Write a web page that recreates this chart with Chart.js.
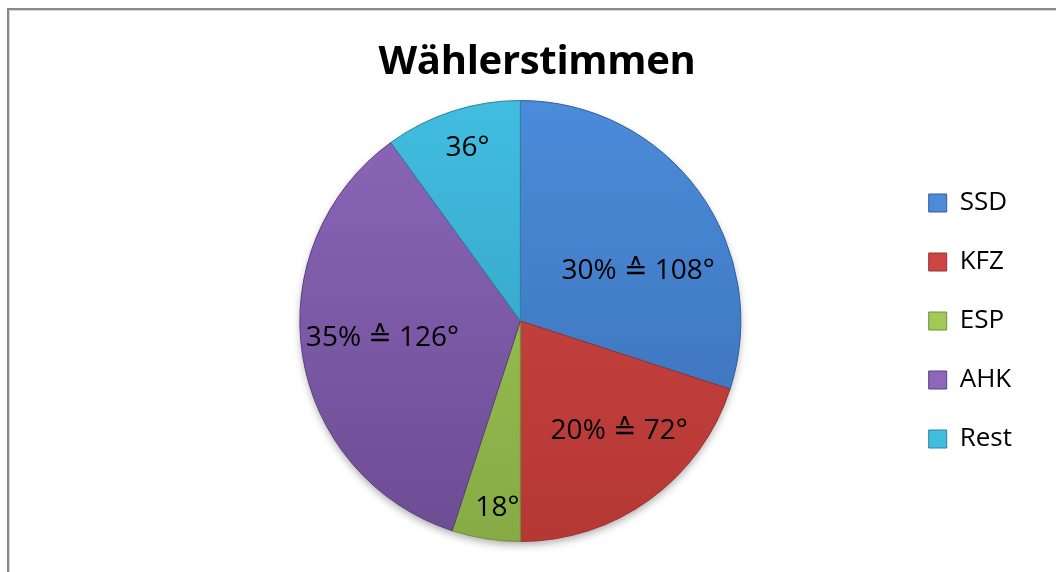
<!DOCTYPE html>
<html>
<head>
<meta charset="utf-8">
<script src="https://cdn.jsdelivr.net/npm/chart.js@4/dist/chart.umd.min.js"></script>
<style>
  html, body { margin: 0; padding: 0; background: #fff; overflow: hidden; }
  #wrap { position: relative; width: 1056px; height: 572px; }
  #frame {
    position: absolute; left: 7px; top: 8px; width: 1200px; height: 800px;
    border-left: 2px solid #8a8a8a; border-top: 2px solid #8a8a8a;
    box-shadow: inset 1px 1px 0 #d8d8d8;
  }
  #title {
    position: absolute; left: 0; top: 31px; width: 1074px; margin: 0;
    text-align: center; font: bold 40px "Open Sans", sans-serif; line-height: 56px;
    color: #000; letter-spacing: -0.3px;
  }
  canvas { position: absolute; left: 0; top: 0; }
</style>
</head>
<body>
<div id="wrap">
  <div id="frame"></div>
  <canvas id="pie" width="1056" height="572"></canvas>
  <h1 id="title">Wählerstimmen</h1>
</div>
<script>
const parties = ['SSD', 'KFZ', 'ESP', 'AHK', 'Rest'];
const degrees = [108, 72, 18, 126, 36];
const sliceLabels = ['30% ≙ 108°', '20% ≙ 72°', '18°', '35% ≙ 126°', '36°'];

// light (top) / dark (bottom) shades, Office 2007 look
const lightShades = ['#4b8bd9', '#cd4643', '#a0ca55', '#8c67ba', '#41bde0'];
const darkShades = ['#3a6fb5', '#b53835', '#86ab45', '#6c4c93', '#3299bb'];
const edgeShades = ['#2f5f9c', '#983230', '#6f9138', '#5a3f7c', '#2a829f'];

// where each label sits: fraction of radius, angle nudge in degrees
const labelRadius = [0.58, 0.67, 0.855, 0.63, 0.82];
const labelNudge = [13, -6, -2, 2, 1];

function sliceFill(ctx) {
  const i = ctx.dataIndex;
  const area = ctx.chart.chartArea;
  if (!area) return lightShades[i];
  const g = ctx.chart.ctx.createLinearGradient(0, area.top, 0, area.bottom);
  g.addColorStop(0, lightShades[i]);
  g.addColorStop(1, darkShades[i]);
  return g;
}

const pieShadow = {
  id: 'pieShadow',
  beforeDatasetsDraw(chart) {
    const arc = chart.getDatasetMeta(0).data[0];
    if (!arc) return;
    const { x, y, outerRadius } = arc.getProps(['x', 'y', 'outerRadius'], true);
    const c = chart.ctx;
    c.save();
    c.shadowColor = 'rgba(0,0,0,0.35)';
    c.shadowBlur = 9;
    c.shadowOffsetY = 4;
    c.fillStyle = '#777';
    c.beginPath();
    c.arc(x, y, outerRadius - 1, 0, Math.PI * 2);
    c.fill();
    c.restore();
  }
};

const sliceText = {
  id: 'sliceText',
  afterDatasetsDraw(chart) {
    const c = chart.ctx;
    c.save();
    c.font = '28px "Open Sans", "DejaVu Sans", sans-serif';
    c.fillStyle = '#000';
    c.textAlign = 'center';
    c.textBaseline = 'middle';
    chart.getDatasetMeta(0).data.forEach((arc, i) => {
      const { x, y, startAngle, endAngle, outerRadius } =
        arc.getProps(['x', 'y', 'startAngle', 'endAngle', 'outerRadius'], true);
      const mid = (startAngle + endAngle) / 2 + labelNudge[i] * Math.PI / 180;
      const r = outerRadius * labelRadius[i];
      c.fillText(sliceLabels[i], x + Math.cos(mid) * r, y + Math.sin(mid) * r);
    });
    c.restore();
  }
};

new Chart(document.getElementById('pie'), {
  type: 'pie',
  data: {
    labels: parties,
    datasets: [{
      data: degrees,
      backgroundColor: sliceFill,
      borderColor: edgeShades,
      borderWidth: 1
    }]
  },
  options: {
    responsive: false,
    animation: false,
    layout: { padding: { top: 100, bottom: 30, left: 145, right: 34 } },
    plugins: {
      title: { display: false },
      legend: {
        position: 'right',
        fullSize: false,
        labels: {
          color: '#000',
          font: { family: '"Open Sans", sans-serif', size: 26 },
          boxWidth: 18,
          boxHeight: 18,
          padding: 33,
          generateLabels(chart) {
            return parties.map((name, i) => ({
              text: name,
              fillStyle: lightShades[i],
              strokeStyle: edgeShades[i],
              lineWidth: 1,
              index: i
            }));
          }
        }
      },
      tooltip: { enabled: false }
    }
  },
  plugins: [pieShadow, sliceText]
});
</script>
</body>
</html>
